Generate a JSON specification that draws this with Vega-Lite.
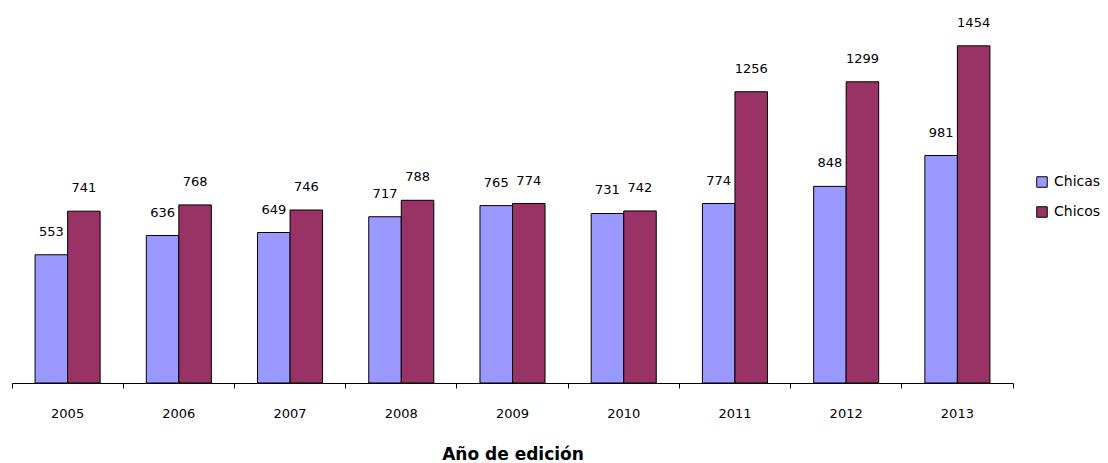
{
  "$schema": "https://vega.github.io/schema/vega-lite/v6.json",
  "autosize": "none",
  "width": 1001,
  "height": 371,
  "padding": {"left": 12, "top": 12, "right": 95, "bottom": 80},
  "background": "white",
  "data": {
    "values": [
      {"year": "2005", "sexo": "Chicas", "n": 553},
      {"year": "2005", "sexo": "Chicos", "n": 741},
      {"year": "2006", "sexo": "Chicas", "n": 636},
      {"year": "2006", "sexo": "Chicos", "n": 768},
      {"year": "2007", "sexo": "Chicas", "n": 649},
      {"year": "2007", "sexo": "Chicos", "n": 746},
      {"year": "2008", "sexo": "Chicas", "n": 717},
      {"year": "2008", "sexo": "Chicos", "n": 788},
      {"year": "2009", "sexo": "Chicas", "n": 765},
      {"year": "2009", "sexo": "Chicos", "n": 774},
      {"year": "2010", "sexo": "Chicas", "n": 731},
      {"year": "2010", "sexo": "Chicos", "n": 742},
      {"year": "2011", "sexo": "Chicas", "n": 774},
      {"year": "2011", "sexo": "Chicos", "n": 1256},
      {"year": "2012", "sexo": "Chicas", "n": 848},
      {"year": "2012", "sexo": "Chicos", "n": 1299},
      {"year": "2013", "sexo": "Chicas", "n": 981},
      {"year": "2013", "sexo": "Chicos", "n": 1454}
    ]
  },
  "encoding": {
    "x": {
      "field": "year",
      "type": "nominal",
      "scale": {"paddingInner": 0, "paddingOuter": 0},
      "axis": {
        "title": "Año de edición",
        "labelAngle": 0,
        "bandPosition": 1,
        "tickExtra": true,
        "labelOffset": 0,
        "domainColor": "black",
        "tickColor": "black",
        "tickSize": 5,
        "labelFont": "DejaVu Sans",
        "labelFontSize": 13,
        "labelColor": "black",
        "labelPadding": 19,
        "titleFont": "DejaVu Sans",
        "titleFontSize": 17,
        "titleFontWeight": "bold",
        "titleColor": "black",
        "titlePadding": 26,
        "grid": false
      }
    },
    "xOffset": {
      "field": "sexo",
      "type": "nominal",
      "scale": {"paddingInner": 0, "paddingOuter": 0.71}
    },
    "y": {
      "field": "n",
      "type": "quantitative",
      "scale": {"domain": [0, 1600], "nice": false},
      "axis": null
    }
  },
  "layer": [
    {
      "mark": {"type": "bar", "stroke": "black", "strokeWidth": 1},
      "encoding": {
        "color": {
          "field": "sexo",
          "type": "nominal",
          "scale": {"domain": ["Chicas", "Chicos"], "range": ["#9999FF", "#993366"]},
          "legend": {
            "title": null,
            "orient": "none",
            "legendX": 1023,
            "legendY": 163,
            "symbolType": "square",
            "symbolSize": 110,
            "symbolStrokeColor": "black",
            "symbolStrokeWidth": 1,
            "rowPadding": 14,
            "labelFont": "DejaVu Sans",
            "labelFontSize": 14,
            "labelColor": "black",
            "labelOffset": 5
          }
        }
      }
    },
    {
      "mark": {"type": "text", "baseline": "bottom", "dy": -16, "font": "DejaVu Sans", "fontSize": 13, "color": "black"},
      "encoding": {"text": {"field": "n", "type": "quantitative"}}
    }
  ],
  "config": {"view": {"stroke": null}}
}
